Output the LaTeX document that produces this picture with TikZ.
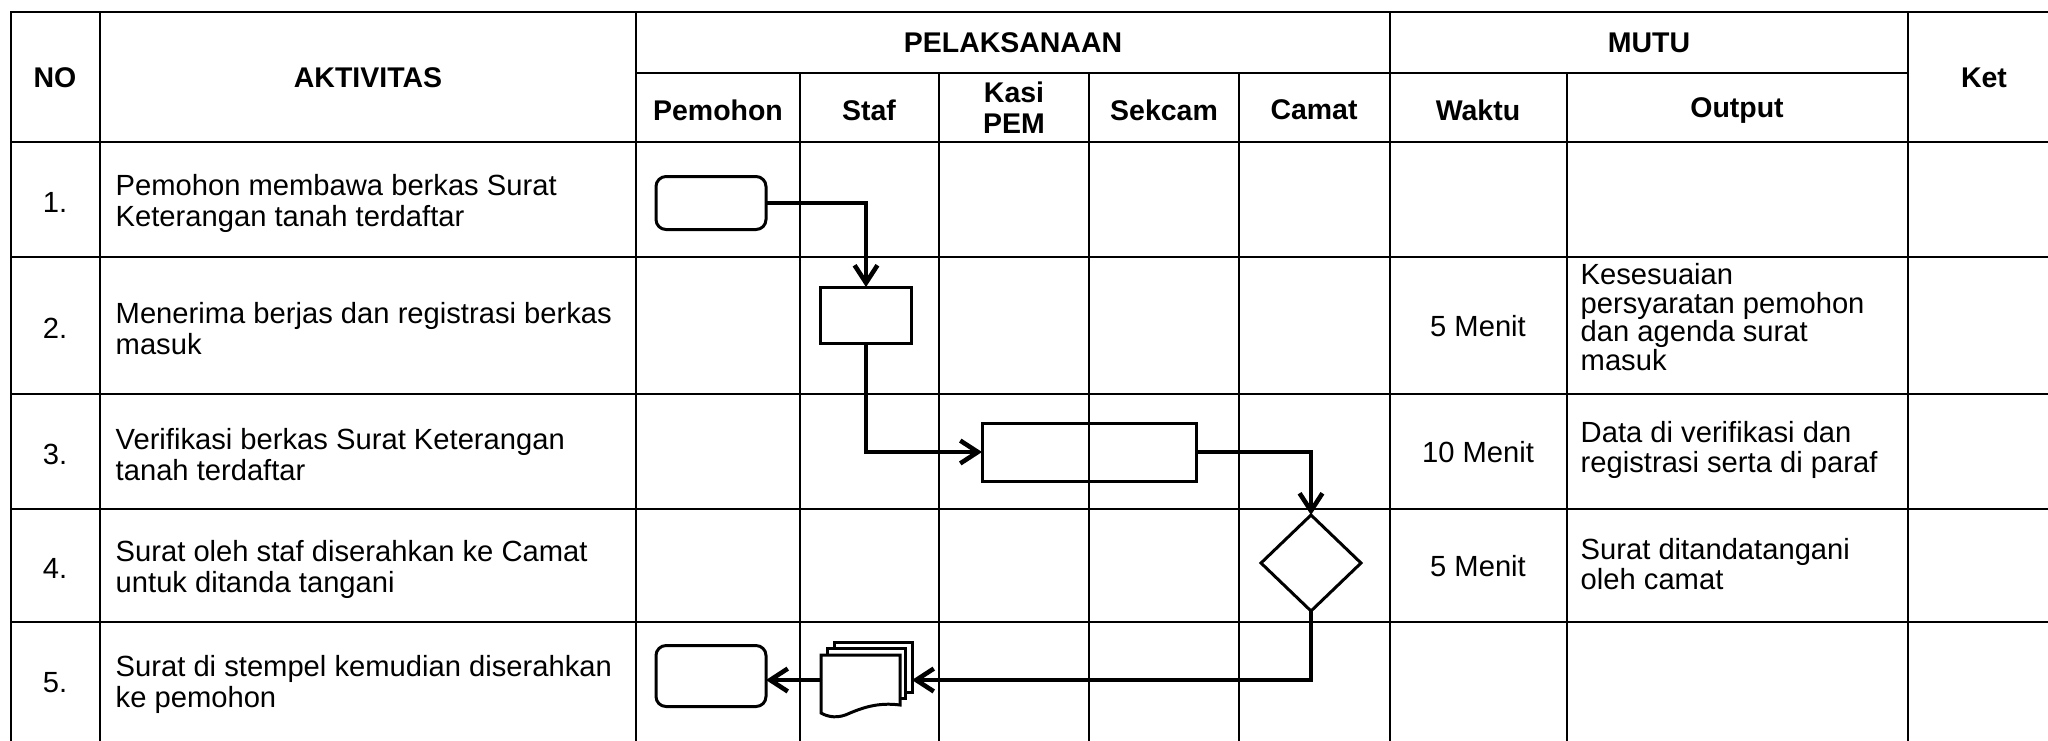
\documentclass[tikz,border=0pt]{standalone}
\usepackage{fontspec}
\setmainfont{Liberation Sans}
\usetikzlibrary{shapes.geometric,arrows.meta}

\begin{document}
\begin{tikzpicture}[x=0.1mm,y=-0.1mm,
    every node/.style={font=\fontsize{8.3}{8.8}\selectfont},
    tabline/.style={line width=0.7pt},
    hd/.style={font=\fontsize{8.1}{8.8}\selectfont\bfseries,align=center},
    txt/.style={anchor=west,align=left,inner sep=0pt},
    term/.style={draw,rounded corners=1mm,line width=0.85pt,outer sep=0pt},
    proc/.style={draw,line width=0.85pt,outer sep=0pt},
    dec/.style={diamond,draw,line width=0.85pt,inner sep=0pt,outer sep=0pt},
    flow/.style={line width=1.3pt,->},
    >={Straight Barb[length=5pt,width=6.5pt]}]
      \clip (0,0) rectangle (2048,740);
      \draw[tabline] (11,12) rectangle (2060,750);
      \draw[tabline] (636,73) -- (1908,73);
      \draw[tabline] (11,142) -- (2060,142);
      \foreach \y in {257,394,509,622} \draw[tabline] (11,\y) -- (2060,\y);
      \foreach \x in {100,636,1390,1908} \draw[tabline] (\x,12) -- (\x,750);
      \foreach \x in {800,939,1089,1239,1567} \draw[tabline] (\x,73) -- (\x,750);
      \node[hd] (no) at (55,78) {NO};
      \node[hd] (aktivitas) at (368,78) {AKTIVITAS};
      \node[hd] (pelaksanaan) at (1013,43) {PELAKSANAAN};
      \node[hd] (mutu) at (1649,43) {MUTU};
      \node[hd] (ket) at (1984,78) {Ket};
      \node[hd] (pemohon) at (718,110) {Pemohon};
      \node[hd] (staf) at (869,110) {Staf};
      \node[hd] (kasi) at (1014,108) {Kasi\\PEM};
      \node[hd] (sekcam) at (1164,110) {Sekcam};
      \node[hd] (camat) at (1314,110) {Camat};
      \node[hd] (waktu) at (1478,110) {Waktu};
      \node[hd] (output) at (1737,110) {Output};
      \node (n1) at (55,202) {1.};
      \node (n2) at (55,328) {2.};
      \node (n3) at (55,454) {3.};
      \node (n4) at (55,568) {4.};
      \node (n5) at (55,683) {5.};
      \node[txt] (a1) at (115,203) {Pemohon membawa berkas Surat\\Keterangan tanah terdaftar};
      \node[txt] (a2) at (115,329) {Menerima berjas dan registrasi berkas\\masuk};
      \node[txt] (a3) at (115,455) {Verifikasi berkas Surat Keterangan\\tanah terdaftar};
      \node[txt] (a4) at (115,569) {Surat oleh staf diserahkan ke Camat\\untuk ditanda tangani};
      \node[txt] (a5) at (115,684) {Surat di stempel kemudian diserahkan\\ke pemohon};
      \node (w2) at (1478,326) {5 Menit};
      \node (w3) at (1478,452) {10 Menit};
      \node (w4) at (1478,566) {5 Menit};
      \node[txt,font=\fontsize{8.3}{8.1}\selectfont] (o2) at (1580,317) {Kesesuaian\\persyaratan pemohon\\dan agenda surat\\masuk};
      \node[txt,font=\fontsize{8.3}{8.5}\selectfont] (o3) at (1580,450) {Data di verifikasi dan\\registrasi serta di paraf};
      \node[txt,font=\fontsize{8.3}{8.5}\selectfont] (o4) at (1580,564) {Surat ditandatangani\\oleh camat};
      \node[term,minimum width=11mm,minimum height=5.3mm] (t1) at (711,203) {};
      \node[proc,minimum width=9.1mm,minimum height=5.6mm] (s2) at (866,315) {};
      \node[proc,minimum width=21.4mm,minimum height=5.8mm] (r3) at (1089,452) {};
      \node[dec,minimum width=10mm,minimum height=9.6mm] (d4) at (1311,563) {};
      \node[term,minimum width=11mm,minimum height=6.1mm] (t5) at (711,676) {};
      \node[inner sep=0pt,outer sep=0pt,minimum width=9.1mm,minimum height=7.5mm] (doc5) at (866.5,680) {};
      \filldraw[fill=white,line width=0.85pt] (834,642) rectangle (912,692);
      \filldraw[fill=white,line width=0.85pt] (827,648) rectangle (905,698);
      \filldraw[fill=white,line width=0.85pt] (821,655) -- (900,655) -- (900,705) .. controls (878,702) and (862,708) .. (850,713) .. controls (838,719) and (828,717) .. (821,713) -- cycle;
      \draw[flow] (t1.east) -| (s2.north);
      \draw[flow] (s2.south) |- (r3.west);
      \draw[flow] (r3.east) -| (d4.north);
      \draw[flow] (d4.south) |- (doc5.east);
      \draw[flow] (doc5.west) -- (doc5.west -| t5.east);
    \end{tikzpicture}
\end{document}
